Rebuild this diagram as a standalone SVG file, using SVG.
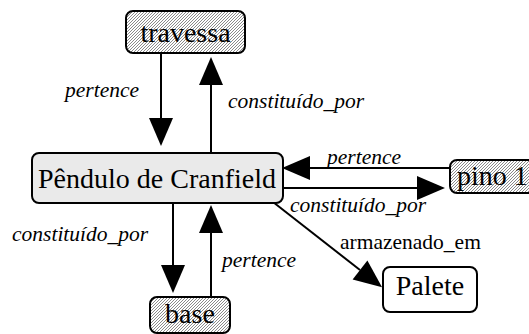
<svg xmlns="http://www.w3.org/2000/svg" width="529" height="334" viewBox="0 0 529 334" font-family="Liberation Serif, DejaVu Serif, serif">
<defs>
<pattern id="hatch" patternUnits="userSpaceOnUse" width="3" height="3">
<rect width="3" height="3" fill="#ffffff"/>
<path d="M-1,1 L1,-1 M0,3 L3,0 M2,4 L4,2" stroke="#8a8a8a" stroke-width="1"/>
</pattern>
<marker id="ah" markerUnits="userSpaceOnUse" markerWidth="28" markerHeight="24" refX="0" refY="12" orient="auto" overflow="visible">
<path d="M0,0 L28,12 L0,24 Z" fill="#000"/>
</marker>
<style>
.node{stroke:#000;stroke-width:2}
.hatched{fill:url(#hatch)}
.main{fill:#eaeaea}
.plain{fill:#fff}
.nt{font-size:28px;fill:#000}
.lb{font-size:21.5px;font-style:italic;fill:#000}
.lbn{font-size:21.5px;fill:#000}
.edge{stroke:#000;stroke-width:2;fill:none;marker-end:url(#ah)}
</style>
</defs>
<g id="connectors">
<line class="edge" x1="161" y1="53" x2="161" y2="118"/>
<line class="edge" x1="211" y1="153" x2="211" y2="85"/>
<line class="edge" x1="450" y1="168" x2="310" y2="168"/>
<line class="edge" x1="283" y1="188" x2="417" y2="188"/>
<line class="edge" x1="173" y1="203" x2="173" y2="265"/>
<line class="edge" x1="211" y1="297" x2="211" y2="233"/>
<line class="edge" x1="273" y1="202" x2="360" y2="270"/>
<text class="lb" x="65" y="97" font-family="Liberation Serif, serif">pertence</text>
<text class="lb" x="228" y="108" font-family="Liberation Serif, serif">constituído_por</text>
<text class="lb" x="327" y="164" font-family="Liberation Serif, serif">pertence</text>
<text class="lb" x="290" y="212" font-family="Liberation Serif, serif">constituído_por</text>
<text class="lb" x="12" y="241" font-family="Liberation Serif, serif">constituído_por</text>
<text class="lb" x="222" y="267" font-family="Liberation Serif, serif">pertence</text>
<text class="lbn" x="340" y="249" font-family="Liberation Serif, serif">armazenado_em</text>
</g>
<g id="travessa">
<rect class="node hatched" x="126" y="11" width="119" height="42" rx="7"/>
<text class="nt" x="185.5" y="42" text-anchor="middle" font-family="Liberation Serif, serif">travessa</text>
</g>
<g id="pendulo">
<rect class="node main" x="32" y="153" width="251" height="50" rx="7"/>
<text class="nt" x="38" y="188" font-family="Liberation Serif, serif">Pêndulo de Cranfield</text>
</g>
<g id="pino1">
<rect class="node hatched" x="450" y="160" width="100" height="33" rx="7"/>
<text class="nt" x="457" y="185" font-family="Liberation Serif, serif">pino 1</text>
</g>
<g id="base">
<rect class="node hatched" x="150" y="297" width="80" height="36" rx="7"/>
<text class="nt" x="190" y="323" text-anchor="middle" font-family="Liberation Serif, serif">base</text>
</g>
<g id="palete">
<rect class="node plain" x="383" y="267" width="94" height="45" rx="7"/>
<text class="nt" x="430" y="295" text-anchor="middle" font-family="Liberation Serif, serif">Palete</text>
</g>
</svg>
